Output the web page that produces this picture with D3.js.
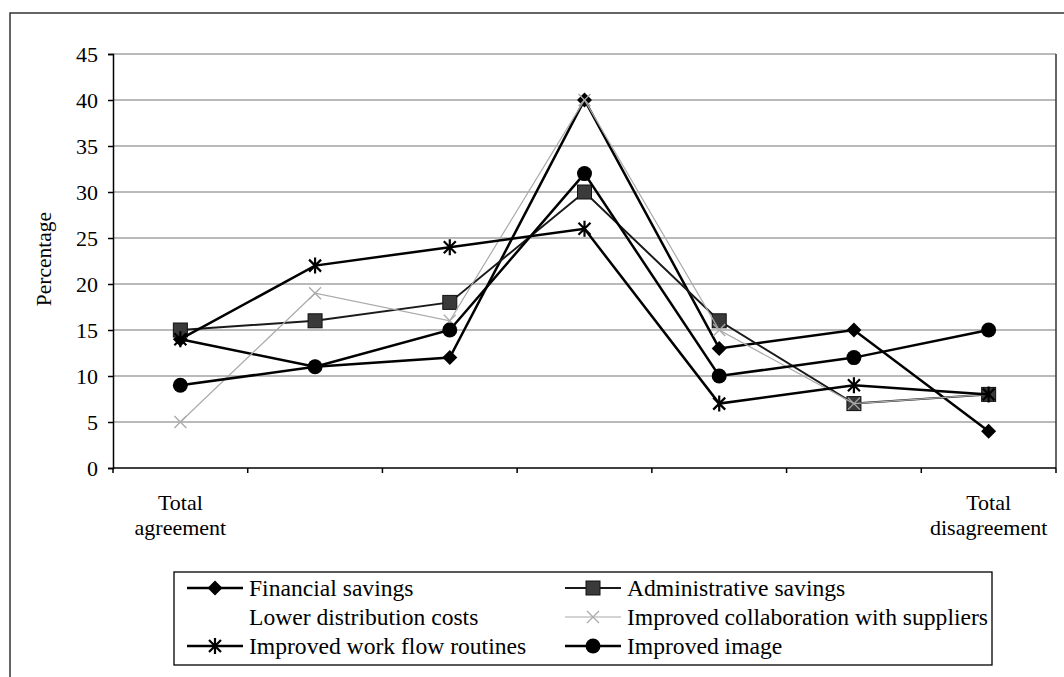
<!DOCTYPE html>
<html lang="en">
<head>
<meta charset="UTF-8" />
<title>Percentage chart</title>
<script src="https://d3js.org/d3.v7.min.js"></script>
<style>
    body { margin: 0; background: #fff; }
    svg { display: block; }
    svg text { font-family: 'Liberation Serif', 'Times New Roman', serif; fill: #000; }
</style>
</head>
<body>
<svg width="1064" height="677"></svg>
<script>

// categories on the x axis (only the two ends are labelled)
var categories = ["Total agreement", "", "", "", "", "", "Total disagreement"];
var yTicks = [0, 5, 10, 15, 20, 25, 30, 35, 40, 45];

// series values
var financialSavings   = [14, 11, 12, 40, 13, 15, 4];
var adminSavings       = [15, 16, 18, 30, 16, 7, 8];
var lowerDistribution  = [];   // no marks visible in the picture
var collaboration      = [5, 19, 16, 40, 15, 7, 8];
var workFlow           = [14, 22, 24, 26, 7, 9, 8];
var improvedImage      = [9, 11, 15, 32, 10, 12, 15];

var seriesNames = ["Financial savings", "Administrative savings", "Lower distribution costs",
                   "Improved collaboration with suppliers", "Improved work flow routines", "Improved image"];
var seriesValues = [financialSavings, adminSavings, lowerDistribution, collaboration, workFlow, improvedImage];
var seriesMarker = ["diamond", "square", "none", "cross", "asterisk", "circle"];
var seriesColor  = ["#000", "#1a1a1a", "none", "#aaa", "#000", "#000"];
var seriesWidth  = [2.5, 2, 0, 1.2, 2.5, 2.5];

var svg = d3.select("svg");

// outer frame
svg.append("path")
    .attr("d", "M10,677V13H1064")
    .attr("fill", "none")
    .attr("stroke", "#333")
    .attr("stroke-width", 1.5);

var x = d3.scaleBand().domain(d3.range(categories.length)).range([113, 1056]);
var y = d3.scaleLinear().domain([0, 45]).range([468, 54]);

// gridlines
svg.append("g")
    .selectAll("line")
    .data(yTicks.slice(1))
    .enter().append("line")
        .attr("x1", 113).attr("x2", 1056)
        .attr("y1", function(d) { return y(d); })
        .attr("y2", function(d) { return y(d); })
        .attr("stroke", "#777")
        .attr("stroke-width", 1.2);

// right border of plot
svg.append("line")
    .attr("x1", 1056).attr("x2", 1056).attr("y1", 54).attr("y2", 468)
    .attr("stroke", "#333").attr("stroke-width", 1.5);

// left axis
var yAxis = svg.append("g")
    .attr("transform", "translate(113,0)")
    .call(d3.axisLeft(y).tickValues(yTicks).tickSize(5).tickPadding(10));
yAxis.attr("font-family", null).attr("font-size", null);
yAxis.selectAll("text").style("font-size", "22px");
yAxis.selectAll("path, line").attr("stroke", "#000").attr("stroke-width", 1.5);

// bottom axis: ticks on the band edges
var xEdges = d3.range(categories.length + 1).map(function(i) { return 113 + i * x.step(); });
svg.append("line")
    .attr("x1", 113).attr("x2", 1056).attr("y1", y(0)).attr("y2", y(0))
    .attr("stroke", "#000").attr("stroke-width", 1.5);
svg.append("g")
    .selectAll("line")
    .data(xEdges)
    .enter().append("line")
        .attr("x1", function(d) { return d; })
        .attr("x2", function(d) { return d; })
        .attr("y1", y(0)).attr("y2", y(0) + 5)
        .attr("stroke", "#000").attr("stroke-width", 1.5);

// category labels (split in two lines)
var catLabels = svg.append("g")
    .selectAll("text")
    .data(categories.map(function(c, i) { return {c: c, i: i}; }).filter(function(d) { return d.c; }))
    .enter().append("text")
        .attr("x", function(d) { return x(d.i) + x.bandwidth() / 2; })
        .attr("y", 510)
        .attr("text-anchor", "middle")
        .style("font-size", "22px");
catLabels.each(function(d) {
    var words = d.c.split(" ");
    var t = d3.select(this);
    t.append("tspan").attr("x", x(d.i) + x.bandwidth() / 2).text(words[0]);
    t.append("tspan").attr("x", x(d.i) + x.bandwidth() / 2).attr("dy", 25).text(words.slice(1).join(" "));
});

// y axis title
svg.append("text")
    .attr("transform", "translate(51,259) rotate(-90)")
    .attr("text-anchor", "middle")
    .style("font-size", "21.5px")
    .text("Percentage");

// marker drawing
function drawMarker(sel, type, color) {
    if (type === "diamond") {
        sel.append("path").attr("d", "M0,-7.5L7.5,0L0,7.5L-7.5,0Z").attr("fill", "#000");
    } else if (type === "square") {
        sel.append("rect").attr("x", -7).attr("y", -7).attr("width", 14).attr("height", 14)
            .attr("fill", "#3a3a3a").attr("stroke", "#111").attr("stroke-width", 1);
    } else if (type === "circle") {
        sel.append("circle").attr("r", 7.5).attr("fill", "#000");
    } else if (type === "cross") {
        sel.append("path").attr("d", "M-6,-6L6,6M-6,6L6,-6").attr("stroke", color).attr("stroke-width", 1.3);
    } else if (type === "asterisk") {
        sel.append("path").attr("d", "M-6,-6L6,6M-6,6L6,-6M0,-8L0,8").attr("stroke", "#000").attr("stroke-width", 2.2);
    }
}

var line = d3.line()
    .x(function(d, i) { return x(i) + x.bandwidth() / 2; })
    .y(function(d) { return y(d); });

// draw series
seriesValues.forEach(function(vals, s) {
    if (!vals.length) return;
    var g = svg.append("g");
    g.append("path")
        .datum(vals)
        .attr("d", line)
        .attr("fill", "none")
        .attr("stroke", seriesColor[s])
        .attr("stroke-width", seriesWidth[s])
        .attr("stroke-linejoin", "miter");
    g.selectAll("g.pt")
        .data(vals)
        .enter().append("g")
            .attr("class", "pt")
            .attr("transform", function(d, i) {
                return "translate(" + (x(i) + x.bandwidth() / 2) + "," + y(d) + ")";
            })
            .each(function() { drawMarker(d3.select(this), seriesMarker[s], seriesColor[s]); });
});

// legend
var legend = svg.append("g");
legend.append("rect")
    .attr("x", 174).attr("y", 572).attr("width", 818).attr("height", 93)
    .attr("fill", "#fff").attr("stroke", "#000").attr("stroke-width", 1.3);

var legendCols = [187, 565];
var legendRows = [588, 617, 646];
var items = legend.selectAll("g.item")
    .data(seriesNames.map(function(n, i) { return {name: n, i: i}; }))
    .enter().append("g")
        .attr("class", "item")
        .attr("transform", function(d) {
            return "translate(" + legendCols[d.i % 2] + "," + legendRows[Math.floor(d.i / 2)] + ")";
        });
items.each(function(d) {
    var g = d3.select(this);
    if (seriesMarker[d.i] !== "none") {
        g.append("line").attr("x1", 0).attr("x2", 56).attr("y1", 0).attr("y2", 0)
            .attr("stroke", seriesColor[d.i]).attr("stroke-width", seriesWidth[d.i]);
        var m = g.append("g").attr("transform", "translate(28,0)");
        drawMarker(m, seriesMarker[d.i], seriesColor[d.i]);
    }
    g.append("text")
        .attr("x", 62).attr("y", 0).attr("dy", "0.35em")
        .style("font-size", "23.6px")
        .text(d.name);
});

</script>
</body>
</html>
